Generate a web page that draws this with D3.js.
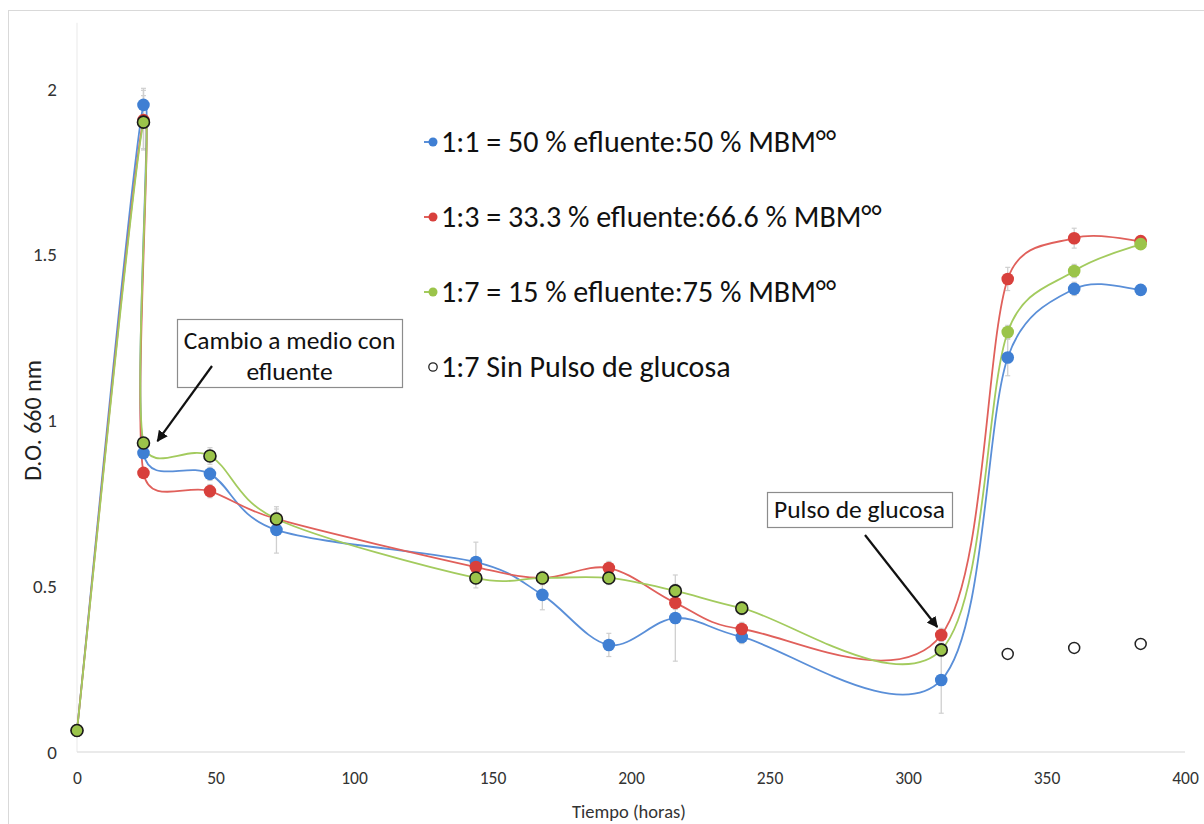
<!DOCTYPE html>
<html>
<head>
<meta charset="utf-8">
<script src="https://cdn.jsdelivr.net/npm/d3@7"></script>
<style>
  html, body { margin: 0; padding: 0; background: #ffffff; }
  svg { display: block; }
  text { font-family: Carlito, Lato, "Open Sans", sans-serif; }
</style>
</head>
<body>
<svg id="chart" width="1204" height="824"></svg>
<script>
// Sampling times (h); t = 24 appears twice: before and after the medium change
const hours = [0, 24, 24, 48, 72, 144, 168, 192, 216, 240, 312, 336, 360, 384];

// Optical density at 660 nm for each dilution
const od11 = [0.065, 1.952, 0.902, 0.839, 0.670, 0.573, 0.474, 0.323, 0.404, 0.347, 0.217, 1.190, 1.397, 1.394];
const od13 = [0.065, 1.906, 0.842, 0.787, 0.703, 0.558, 0.525, 0.555, 0.450, 0.371, 0.353, 1.427, 1.550, 1.541];
const od17 = [0.065, 1.900, 0.932, 0.893, 0.703, 0.525, 0.525, 0.525, 0.486, 0.434, 0.308, 1.267, 1.451, 1.532];

// Standard deviations
const sd11 = [0, 0.050, 0.010, 0.020, 0.070, 0.060, 0.045, 0.035, 0.130, 0.020, 0.100, 0.055, 0.020, 0.010];
const sd13 = [0, 0.090, 0.010, 0.020, 0.020, 0.020, 0.020, 0.020, 0.020, 0.020, 0.020, 0.035, 0.030, 0.010];
const sd17 = [0, 0.080, 0.015, 0.025, 0.030, 0.030, 0.020, 0.020, 0.020, 0.020, 0.020, 0.020, 0.020, 0.010];

// 1:7 control without glucose pulse
const controlHours = [336, 360, 384];
const odControl = [0.296, 0.314, 0.326];

// Time of the glucose pulse (h)
const pulseHour = 312;

const xTicks = [0, 50, 100, 150, 200, 250, 300, 350, 400];
const yTicks = [0, 0.5, 1, 1.5, 2];

const seriesNames = [
  "1:1 = 50 % efluente:50 % MBM°°",
  "1:3 = 33.3 % efluente:66.6 % MBM°°",
  "1:7 = 15 % efluente:75 % MBM°°",
  "1:7 Sin Pulso de glucosa"
];

const svg = d3.select("#chart");
const W = 1204, H = 824;

// outer chart frame
svg.append("rect")
  .attr("x", 8.5).attr("y", 10.5)
  .attr("width", W).attr("height", H)
  .attr("fill", "#ffffff").attr("stroke", "#d9d9d9").attr("stroke-width", 1);

const x = d3.scaleLinear().domain([0, 400]).range([77, 1185]);
const y = d3.scaleLinear().domain([0, 2.2]).range([752, 22.7]);

// axis lines
svg.append("line")
  .attr("x1", x(0)).attr("x2", x(0)).attr("y1", y(2.2)).attr("y2", y(0))
  .attr("stroke", "#ededed").attr("stroke-width", 1.2);
svg.append("line")
  .attr("x1", x(0)).attr("x2", x(400)).attr("y1", y(0)).attr("y2", y(0))
  .attr("stroke", "#e3e3e3").attr("stroke-width", 1.5);

// tick labels
const yAxis = d3.axisLeft(y).tickValues(yTicks).tickSize(0).tickPadding(20)
  .tickFormat(d => String(d));
const gy = svg.append("g").attr("transform", `translate(${x(0)},0)`).call(yAxis);
gy.select(".domain").remove();
gy.selectAll("text").attr("font-size", 19).attr("fill", "#333").attr("font-family", "Carlito, Lato, sans-serif");

const xAxis = d3.axisBottom(x).tickValues(xTicks).tickSize(0).tickPadding(20)
  .tickFormat(d => String(d));
const gx = svg.append("g").attr("transform", `translate(0,${y(0)})`).call(xAxis);
gx.select(".domain").remove();
gx.selectAll("text").attr("font-size", 17.5).attr("fill", "#333").attr("font-family", "Carlito, Lato, sans-serif");

// axis titles
svg.append("text")
  .attr("transform", `translate(41,${(y(0) + y(2)) / 2}) rotate(-90)`)
  .attr("text-anchor", "middle").attr("font-size", 24).attr("fill", "#222")
  .text("D.O. 660 nm");
svg.append("text")
  .attr("x", (x(0) + x(400)) / 2 - 2).attr("y", 818)
  .attr("text-anchor", "middle").attr("font-size", 18.5).attr("fill", "#333")
  .text("Tiempo (horas)");

const series = [
  { name: seriesNames[0], vals: od11, sd: sd11, line: "#5a8fd8", fill: "#3f7fd3" },
  { name: seriesNames[1], vals: od13, sd: sd13, line: "#e0605b", fill: "#d8403c" },
  { name: seriesNames[2], vals: od17, sd: sd17, line: "#a3cb5e", fill: "#9bc44a", outlined: true }
];

// error bars
const errG = svg.append("g");
series.forEach(s => {
  hours.forEach((h, i) => {
    if (!s.sd[i]) return;
    const cx = x(h), y1 = y(s.vals[i] - s.sd[i]), y2 = y(s.vals[i] + s.sd[i]);
    errG.append("line").attr("x1", cx).attr("x2", cx).attr("y1", y1).attr("y2", y2)
      .attr("stroke", "#cfcfcf").attr("stroke-width", 1.3);
    [y1, y2].forEach(yy => errG.append("line")
      .attr("x1", cx - 2.5).attr("x2", cx + 2.5).attr("y1", yy).attr("y2", yy)
      .attr("stroke", "#cfcfcf").attr("stroke-width", 1.2));
  });
});

// Smoothed spreadsheet-style line: Bezier segments whose tangents follow the
// neighbouring points (Catmull-Rom, factor 1/6), with each control arm capped
// at half of the segment it belongs to so short hops don't overshoot.
function smoothPath(pts) {
  const p = d3.path();
  const n = pts.length;
  const tan = pts.map((pt, i) => {
    const a = pts[Math.max(0, i - 1)], b = pts[Math.min(n - 1, i + 1)];
    return [(b[0] - a[0]) / 6, (b[1] - a[1]) / 6];
  });
  const cap = (t, len) => {
    const m = Math.hypot(t[0], t[1]);
    const s = m > 0 ? Math.min(1, 0.5 * len / m) : 0;
    return [t[0] * s, t[1] * s];
  };
  p.moveTo(pts[0][0], pts[0][1]);
  for (let i = 0; i < n - 1; i++) {
    const a = pts[i], b = pts[i + 1];
    const len = Math.hypot(b[0] - a[0], b[1] - a[1]);
    const t0 = cap(tan[i], len), t1 = cap(tan[i + 1], len);
    p.bezierCurveTo(a[0] + t0[0], a[1] + t0[1], b[0] - t1[0], b[1] - t1[1], b[0], b[1]);
  }
  return p.toString();
}

series.forEach(s => {
  const pts = hours.map((h, i) => [x(h), y(s.vals[i])]);
  svg.append("path")
    .attr("d", smoothPath(pts))
    .attr("fill", "none").attr("stroke", s.line).attr("stroke-width", 1.8);
});

// markers
series.forEach(s => {
  svg.append("g").selectAll("circle")
    .data(hours.map((h, i) => [h, s.vals[i]]))
    .join("circle")
    .attr("cx", d => x(d[0])).attr("cy", d => y(d[1]))
    .attr("r", d => s.outlined && d[0] <= pulseHour ? 6 : 6.3)
    .attr("fill", s.fill)
    .attr("stroke", d => s.outlined && d[0] <= pulseHour ? "#1a1a1a" : "none")
    .attr("stroke-width", 1.6);
});

// control without pulse
svg.append("g").selectAll("circle")
  .data(controlHours.map((h, i) => [h, odControl[i]]))
  .join("circle")
  .attr("cx", d => x(d[0])).attr("cy", d => y(d[1]))
  .attr("r", 5.5).attr("fill", "#ffffff").attr("stroke", "#222").attr("stroke-width", 1.5);

// legend
const legendRows = [142, 217, 292, 367];
const leg = svg.append("g");
seriesNames.forEach((name, i) => {
  const gy0 = legendRows[i];
  const g = leg.append("g").attr("transform", `translate(433,${gy0})`);
  if (i < 3) {
    g.append("line").attr("x1", -9).attr("x2", 0).attr("y1", 0).attr("y2", 0)
      .attr("stroke", series[i].line).attr("stroke-width", 2);
    g.append("circle").attr("r", 4.5).attr("fill", series[i].fill);
  } else {
    g.append("circle").attr("r", 4.2).attr("fill", "#fff").attr("stroke", "#222").attr("stroke-width", 1.3);
  }
  g.append("text").attr("x", 8).attr("y", 9.5)
    .attr("font-size", 30).attr("fill", "#111").text(name);
});

// annotation callouts
const arrowHead = svg.append("defs").append("marker")
  .attr("id", "arrow").attr("viewBox", "0 0 10 10")
  .attr("refX", 9).attr("refY", 5)
  .attr("markerWidth", 5).attr("markerHeight", 5)
  .attr("orient", "auto");
arrowHead.append("path").attr("d", "M0,0 L10,5 L0,10 Z").attr("fill", "#111");

function callout(box, lines, baseline, from, to) {
  svg.append("rect")
    .attr("x", box[0] + 0.5).attr("y", box[1] + 0.5)
    .attr("width", box[2]).attr("height", box[3])
    .attr("fill", "#fff").attr("stroke", "#8c8c8c").attr("stroke-width", 1.2);
  lines.forEach((t, j) => {
    svg.append("text")
      .attr("x", box[0] + box[2] / 2).attr("y", box[1] + baseline + j * 31)
      .attr("text-anchor", "middle").attr("font-size", 25.5).attr("fill", "#111")
      .text(t);
  });
  svg.append("line")
    .attr("x1", from[0]).attr("y1", from[1]).attr("x2", to[0]).attr("y2", to[1])
    .attr("stroke", "#111").attr("stroke-width", 2.2)
    .attr("marker-end", "url(#arrow)");
}

callout([177, 319, 225, 68], ["Cambio a medio con", "efluente"], 30,
  [212, 366], [x(24) + 14, y(od17[2]) - 2]);
callout([767, 492, 185, 35], ["Pulso de glucosa"], 26,
  [865, 535], [x(pulseHour) - 4, y(od13[10]) - 8]);
</script>
</body>
</html>
